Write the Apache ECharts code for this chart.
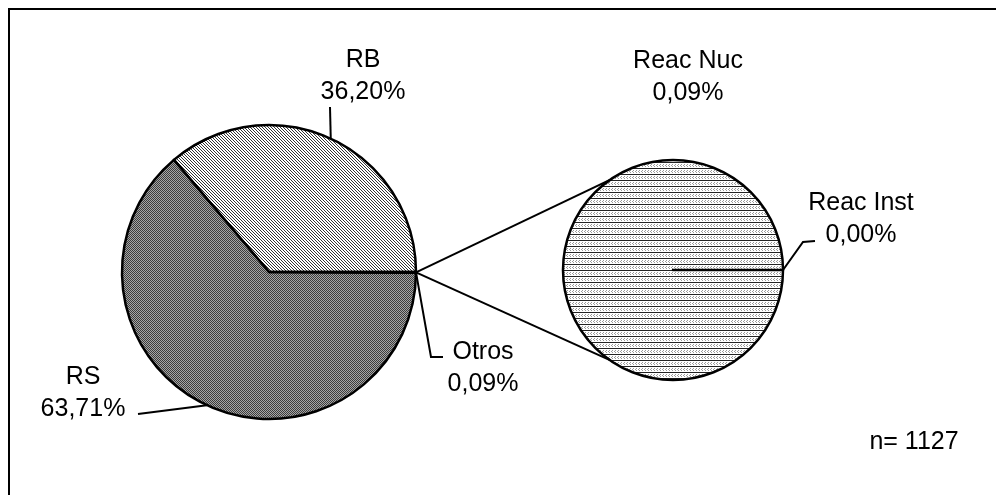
<!DOCTYPE html>
<html>
<head>
<meta charset="utf-8">
<script src="https://cdn.jsdelivr.net/npm/echarts@6/dist/echarts.min.js"></script>
<style>
html, body { margin: 0; padding: 0; background: #fff; }
#chart { width: 996px; height: 495px; }
</style>
</head>
<body>
<div id="chart"></div>
<script>
// datos
var mainNames = ['RB', 'RS', 'Otros'];
var mainValues = [36.20, 63.71, 0.09];
var subNames = ['Reac Nuc', 'Reac Inst'];
var subValues = [0.09, 0.00];
var sampleText = 'n= 1127';

var chart = echarts.init(document.getElementById('chart'));

// geometria de las tortas
var leftC = [269, 272], leftR = 147;
var rightC = [673, 270], rightR = 110;

// posicion de etiquetas y codos de las lineas guia
var mainLabelPos = [
	{x: 363, y: 76, line: [[330, 107]]},
	{x: 83, y: 393, line: [[138, 414]]},
	{x: 483, y: 368, line: [[431, 357], [443, 357]]}
];
var subLabelPos = [
	{x: 688, y: 77, line: null},
	{x: 861, y: 219, line: [[803, 242], [815, 241]]}
];

var FONT = '"Liberation Sans", Arial, sans-serif';

function makePattern(w, h, draw) {
	var c = document.createElement('canvas');
	c.width = w; c.height = h;
	var ctx = c.getContext('2d');
	draw(ctx, w, h);
	return {image: c, repeat: 'repeat'};
}

// trama clara diagonal (RB)
var patRB = makePattern(6, 6, function(ctx, w, h) {
	ctx.fillStyle = '#fff';
	ctx.fillRect(0, 0, w, h);
	ctx.strokeStyle = '#333';
	ctx.lineWidth = 1;
	for (var k = -6; k <= 6; k += 3) {
		ctx.beginPath();
		ctx.moveTo(k, 0);
		ctx.lineTo(k + 6, 6);
		ctx.stroke();
	}
});
// trama oscura densa (RS)
var patRS = makePattern(6, 6, function(ctx, w, h) {
	ctx.fillStyle = '#a6a6a6';
	ctx.fillRect(0, 0, w, h);
	ctx.strokeStyle = '#3c3c3c';
	ctx.lineWidth = 1;
	for (var k = -6; k <= 6; k += 2) {
		ctx.beginPath();
		ctx.moveTo(k, 0);
		ctx.lineTo(k + 6, 6);
		ctx.stroke();
	}
});
// rayado horizontal (segunda torta)
var patSub = makePattern(3, 6, function(ctx, w, h) {
	ctx.fillStyle = '#fff';
	ctx.fillRect(0, 0, w, h);
	ctx.fillStyle = '#222';
	ctx.fillRect(0, 0, w, 1);
	ctx.fillStyle = '#9a9a9a';
	ctx.fillRect(0, 2, 1, 1);
	ctx.fillRect(0, 4, 1, 1);
	ctx.fillRect(2, 3, 1, 1);
});

function midPoint(values, i, c, r) {
	var sum = 0, cum = 0;
	for (var j = 0; j < values.length; j++) {
		sum += values[j];
		if (j < i) cum += values[j];
	}
	var a = (cum + values[i] / 2) / sum * Math.PI * 2;
	return [c[0] + r * Math.cos(a), c[1] - r * Math.sin(a)];
}

function pctLabel(p) {
	return p.name + '\n' + p.value.toFixed(2).replace('.', ',') + '%';
}

function layoutFor(values, c, r, pos) {
	return function(params) {
		var p = pos[params.dataIndex];
		var res = {x: p.x, y: p.y, align: 'center', verticalAlign: 'middle'};
		if (p.line) {
			res.labelLinePoints = [midPoint(values, params.dataIndex, c, r)].concat(p.line);
		}
		return res;
	};
}

var labelStyle = {
	show: true,
	position: 'outside',
	formatter: pctLabel,
	color: '#000',
	fontSize: 25,
	lineHeight: 32,
	fontFamily: FONT
};
var lineStyle = {show: true, length: 10, length2: 10, lineStyle: {color: '#000', width: 2}};

var mainColors = [patRB, patRS, patRS];
var mainData = mainNames.map(function(n, i) {
	return {name: n, value: mainValues[i], itemStyle: {color: mainColors[i]}};
});
var subData = subNames.map(function(n, i) {
	var d = {name: n, value: subValues[i], itemStyle: {color: patSub}};
	if (i === 0) d.labelLine = {show: false};
	return d;
});

// lineas de conexion entre tortas
var otrosPt = midPoint(mainValues, 2, leftC, leftR);
function onRight(deg) {
	var a = deg * Math.PI / 180;
	return [rightC[0] + rightR * Math.cos(a), rightC[1] - rightR * Math.sin(a)];
}
var up = onRight(125), down = onRight(235);

var option = {
	backgroundColor: '#fff',
	animation: false,
	graphic: [
		{type: 'rect', z: 0, shape: {x: 9, y: 9, width: 1000, height: 500},
			style: {fill: null, stroke: '#000', lineWidth: 2}},
		{type: 'line', z: 0, shape: {x1: otrosPt[0], y1: otrosPt[1], x2: up[0], y2: up[1]},
			style: {stroke: '#000', lineWidth: 2}},
		{type: 'line', z: 0, shape: {x1: otrosPt[0], y1: otrosPt[1], x2: down[0], y2: down[1]},
			style: {stroke: '#000', lineWidth: 2}},
		{type: 'text', z: 5, style: {text: sampleText, x: 914, y: 442, textAlign: 'center',
			textVerticalAlign: 'middle', fontSize: 25, fontFamily: FONT, fill: '#000'}}
	],
	series: [{
		type: 'pie',
		center: leftC,
		radius: leftR,
		startAngle: 0,
		clockwise: false,
		avoidLabelOverlap: false,
		itemStyle: {borderColor: '#000', borderWidth: 2.5},
		label: labelStyle,
		labelLine: lineStyle,
		labelLayout: layoutFor(mainValues, leftC, leftR, mainLabelPos),
		emphasis: {disabled: true},
		data: mainData
	}, {
		type: 'pie',
		center: rightC,
		radius: rightR,
		startAngle: 0,
		clockwise: false,
		avoidLabelOverlap: false,
		itemStyle: {borderColor: '#000', borderWidth: 2.5},
		label: labelStyle,
		labelLine: lineStyle,
		labelLayout: layoutFor(subValues, rightC, rightR, subLabelPos),
		emphasis: {disabled: true},
		data: subData
	}]
};

chart.setOption(option);
</script>
</body>
</html>
